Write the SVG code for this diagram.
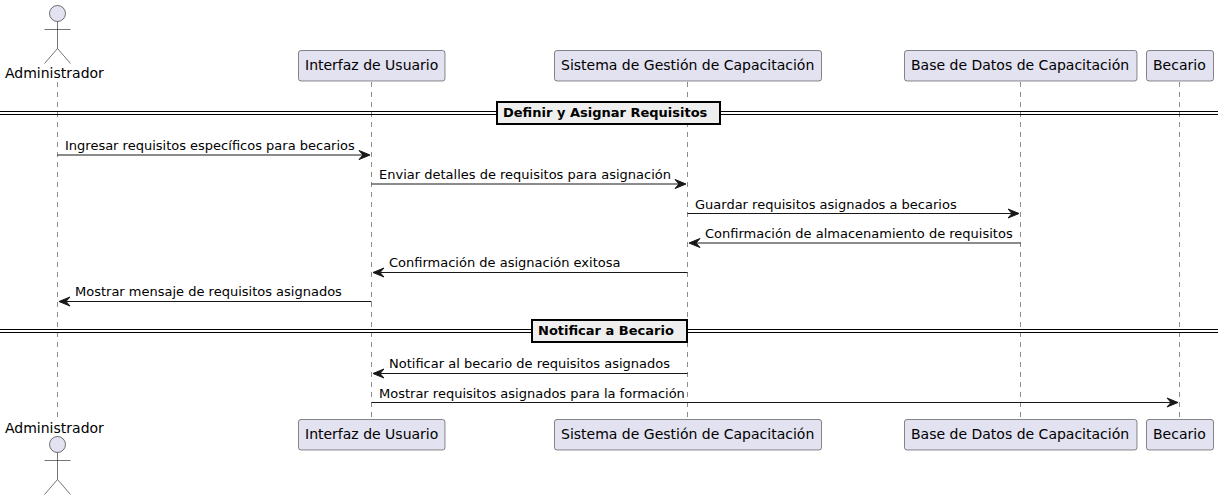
<svg xmlns="http://www.w3.org/2000/svg" width="1224" height="500" viewBox="0 0 1224 500">
<style>
text{font-family:"DejaVu Sans",sans-serif;fill:#000}
.p{font-size:14px}
.m{font-size:13px}
.d{font-size:13px;font-weight:bold}
.box{fill:#E2E2F0;stroke:#181818;stroke-width:.5}
.act{fill:#E2E2F0;stroke:#181818;stroke-width:.6}
.limb{stroke:#181818;stroke-width:.6;fill:none}
.life{stroke:#181818;stroke-width:.5;stroke-dasharray:5,5;fill:none}
.msg{stroke:#181818;stroke-width:1;fill:none}
.sep{stroke:#000;stroke-width:1.2;fill:none}
.sb{fill:#EEEEEE;stroke:#000;stroke-width:2}
</style>
<defs>
<path id="ah" d="M0,0 L-11,-4.500 L-7,0 L-11,4.500 Z" fill="#181818" stroke="#181818" stroke-width="1"/>
<g id="actor"><circle class="act" cx="0" cy="0" r="8"/><path class="limb" d="M0,8V35M-13,16H13M0,35L-13,50M0,35L13,50"/></g>
</defs>
<g id="lifelines">
<line class="life" x1="57.5" y1="82" x2="57.5" y2="418"/>
<line class="life" x1="371.5" y1="82" x2="371.5" y2="418"/>
<line class="life" x1="687.5" y1="82" x2="687.5" y2="418"/>
<line class="life" x1="1020.5" y1="82" x2="1020.5" y2="418"/>
<line class="life" x1="1179.5" y1="82" x2="1179.5" y2="418"/>
</g>
<g id="n-admin-top"><use href="#actor" x="57.5" y="13.5"/><text class="p" x="5" y="78">Administrador</text></g>
<g id="n-ui-top"><rect class="box" x="298.5" y="50.5" width="146.5" height="30.5" rx="2.5"/><text class="p" x="305" y="70">Interfaz de Usuario</text></g>
<g id="n-sys-top"><rect class="box" x="554.5" y="50.5" width="267" height="30.5" rx="2.5"/><text class="p" x="561" y="70">Sistema de Gestión de Capacitación</text></g>
<g id="n-db-top"><rect class="box" x="904.5" y="50.5" width="232.5" height="30.5" rx="2.5"/><text class="p" x="911" y="70">Base de Datos de Capacitación</text></g>
<g id="n-bec-top"><rect class="box" x="1146.5" y="50.5" width="67" height="30.5" rx="2.5"/><text class="p" x="1153" y="70">Becario</text></g>
<g id="n-admin-bot"><text class="p" x="5" y="433">Administrador</text><use href="#actor" x="57.5" y="444.5"/></g>
<g id="n-ui-bot"><rect class="box" x="298.5" y="419.5" width="146.5" height="30.5" rx="2.5"/><text class="p" x="305" y="439">Interfaz de Usuario</text></g>
<g id="n-sys-bot"><rect class="box" x="554.5" y="419.5" width="267" height="30.5" rx="2.5"/><text class="p" x="561" y="439">Sistema de Gestión de Capacitación</text></g>
<g id="n-db-bot"><rect class="box" x="904.5" y="419.5" width="232.5" height="30.5" rx="2.5"/><text class="p" x="911" y="439">Base de Datos de Capacitación</text></g>
<g id="n-bec-bot"><rect class="box" x="1146.5" y="419.5" width="67" height="30.5" rx="2.5"/><text class="p" x="1153" y="439">Becario</text></g>
<g id="dividers">
<path class="sep" d="M0,111.5H1218M0,114.5H1218"/>
<rect class="sb" x="497" y="102" width="223" height="22"/>
<text class="d" x="503" y="117">Definir y Asignar Requisitos</text>
<path class="sep" d="M0,329.5H1218M0,332.5H1218"/>
<rect class="sb" x="532" y="320" width="155" height="22"/>
<text class="d" x="538" y="335">Notificar a Becario</text>
</g>
<g id="connectors">
<line class="msg" x1="57.5" y1="155" x2="365" y2="155"/><use href="#ah" x="370" y="155"/>
<line class="msg" x1="371.5" y1="184" x2="681" y2="184"/><use href="#ah" x="686" y="184"/>
<line class="msg" x1="687.5" y1="213.500" x2="1014" y2="213.500"/><use href="#ah" x="1019" y="213.500"/>
<line class="msg" x1="694" y1="243" x2="1020.5" y2="243"/><use href="#ah" transform="translate(689,243) scale(-1,1)"/>
<line class="msg" x1="378" y1="272.500" x2="687.5" y2="272.500"/><use href="#ah" transform="translate(373,272.500) scale(-1,1)"/>
<line class="msg" x1="64" y1="301.500" x2="371.5" y2="301.500"/><use href="#ah" transform="translate(59,301.500) scale(-1,1)"/>
<line class="msg" x1="378" y1="373.500" x2="687.5" y2="373.500"/><use href="#ah" transform="translate(373,373.500) scale(-1,1)"/>
<line class="msg" x1="371.5" y1="402.500" x2="1173" y2="402.500"/><use href="#ah" x="1178" y="402.500"/>
</g>
<g id="labels">
<text class="m" x="65" y="150">Ingresar requisitos específicos para becarios</text>
<text class="m" x="379" y="179">Enviar detalles de requisitos para asignación</text>
<text class="m" x="695" y="209">Guardar requisitos asignados a becarios</text>
<text class="m" x="705" y="238">Confirmación de almacenamiento de requisitos</text>
<text class="m" x="389" y="267">Confirmación de asignación exitosa</text>
<text class="m" x="75" y="296">Mostrar mensaje de requisitos asignados</text>
<text class="m" x="389" y="368">Notificar al becario de requisitos asignados</text>
<text class="m" x="379" y="398">Mostrar requisitos asignados para la formación</text>
</g>
</svg>
